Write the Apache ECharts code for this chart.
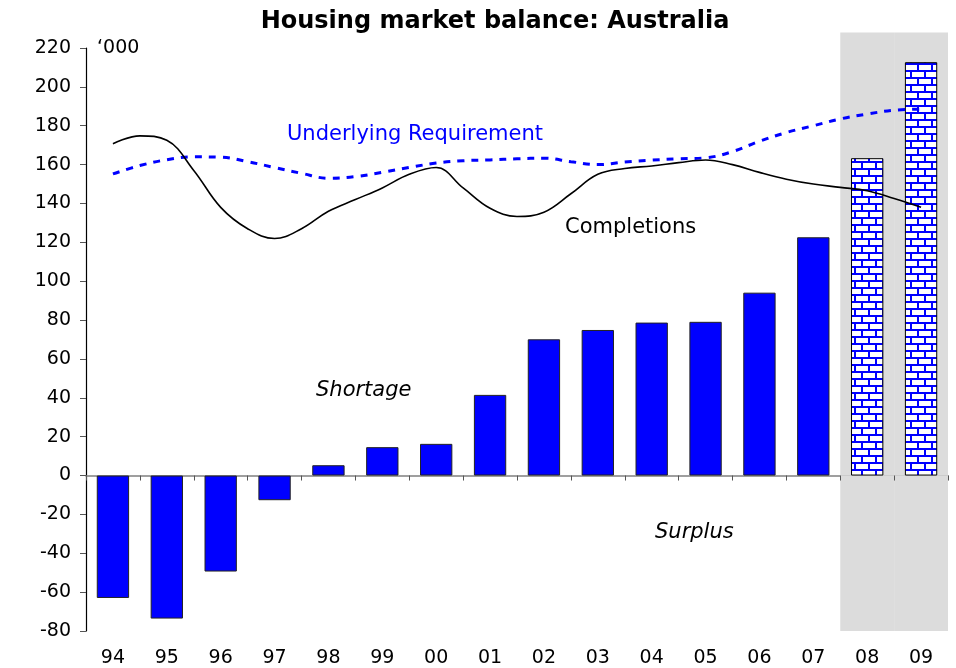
<!DOCTYPE html>
<html>
<head>
<meta charset="utf-8">
<script src="https://cdn.jsdelivr.net/npm/echarts@6/dist/echarts.min.js"></script>
<style>
  html, body { margin: 0; padding: 0; background: #fff; }
  #chart { width: 956px; height: 668px; }
</style>
</head>
<body>
<div id="chart"></div>
<script>
// Years shown on the category axis
const years = ['94', '95', '96', '97', '98', '99', '00', '01', '02', '03', '04', '05', '06', '07', '08', '09'];
// Housing balance ('000): shortage (+) / surplus (-)
const balance = [-63, -73.6, -49.4, -12.7, 5.3, 14.6, 16.3, 41.5, 70.1, 74.9, 78.7, 79.1, 94.1, 122.6, 163.3, 212.7];
// Forecast years (patterned bars, shaded region)
const forecastYears = ['08', '09'];
const shadeTop = 228;
const shadeBottom = -80;

// Half-yearly time points for the two lines
const lineTimes = [1994, 1994.5, 1995, 1995.5, 1996, 1996.5, 1997, 1997.5, 1998, 1998.5,
  1999, 1999.5, 2000, 2000.5, 2001, 2001.5, 2002, 2002.5, 2003, 2003.5,
  2004, 2004.5, 2005, 2005.5, 2006, 2006.5, 2007, 2007.5, 2008, 2008.5, 2009];
const completions = [170.7, 174.8, 172.5, 157, 138, 127, 122, 127, 136, 142,
  148, 155, 158.5, 148, 137.5, 133.3, 135.5, 145, 155, 158,
  159.3, 161, 162.4, 160, 156, 152.5, 150, 148.3, 146.5, 142.5, 138];
const requirement = [155.2, 159.5, 162.5, 164, 163.8, 161.5, 158.5, 155.5, 153, 153.8,
  156, 158.5, 160.8, 162, 162.4, 163, 163.3, 161.5, 160, 161.3,
  162.3, 163, 163.5, 166.7, 172, 176.5, 180, 183.5, 186, 188, 188.5];

const yTicks = { min: -80, max: 220, interval: 20 };

// brick pattern for forecast bars
function makeBrick() {
  const c = document.createElement('canvas');
  c.width = 14; c.height = 14;
  const g = c.getContext('2d');
  g.fillStyle = '#ffffff';
  g.fillRect(0, 0, 14, 14);
  g.fillStyle = '#0000ff';
  g.fillRect(0, 0, 14, 2);
  g.fillRect(0, 7, 14, 2);
  g.fillRect(0, 0, 2, 7);
  g.fillRect(7, 7, 2, 7);
  return c;
}
const brick = { image: makeBrick(), repeat: 'repeat' };

const font = 'DejaVu Sans, Verdana, sans-serif';
const chart = echarts.init(document.getElementById('chart'));

const barData = balance.map((v, i) => {
  if (forecastYears.includes(years[i])) {
    return { value: v, itemStyle: { color: brick, borderColor: '#000', borderWidth: 1 } };
  }
  return v;
});

const shadeUp = years.map(y => forecastYears.includes(y) ? shadeTop : null);
const shadeDown = years.map(y => forecastYears.includes(y) ? shadeBottom : null);

const option = {
  animation: false,
  title: {
    text: 'Housing market balance: Australia',
    left: 490,
    textAlign: 'center',
    top: 5,
    textStyle: { fontFamily: font, fontSize: 24, fontWeight: 'bold', color: '#000' }
  },
  grid: { left: 86, right: 8, top: 48, bottom: 37 },
  xAxis: [
    {
      type: 'category',
      data: years,
      axisLine: { onZero: true, lineStyle: { color: '#808080', width: 1.5 } },
      axisTick: { show: true, alignWithLabel: false, length: 5, lineStyle: { color: '#555' } },
      axisLabel: { show: false },
      splitLine: { show: false }
    },
    {
      type: 'category',
      data: years,
      position: 'bottom',
      axisLine: { show: false, onZero: false },
      axisTick: { show: false },
      axisLabel: { show: true, margin: 18, fontFamily: font, fontSize: 19, color: '#000' },
      splitLine: { show: false }
    },
    {
      type: 'value',
      min: 1993.5,
      max: 2009.5,
      show: false
    }
  ],
  yAxis: [
    {
      type: 'value',
      min: yTicks.min,
      max: yTicks.max,
      interval: yTicks.interval,
      axisLine: { show: true, lineStyle: { color: '#000', width: 1.2 } },
      axisTick: { show: true, length: 6, lineStyle: { color: '#555' } },
      axisLabel: { margin: 15, fontFamily: font, fontSize: 19, color: '#000' },
      splitLine: { show: false }
    },
    {
      type: 'value',
      min: yTicks.min,
      max: yTicks.max,
      show: false
    }
  ],
  series: [
    {
      name: 'shade-up',
      type: 'bar',
      xAxisIndex: 1,
      yAxisIndex: 1,
      data: shadeUp,
      barWidth: '100%',
      barGap: '-100%',
      clip: false,
      silent: true,
      itemStyle: { color: '#dcdcdc' },
      z: 0
    },
    {
      name: 'shade-down',
      type: 'bar',
      xAxisIndex: 1,
      yAxisIndex: 1,
      data: shadeDown,
      barWidth: '100%',
      barGap: '-100%',
      clip: false,
      silent: true,
      itemStyle: { color: '#dcdcdc' },
      z: 0
    },
    {
      name: 'Balance',
      type: 'bar',
      xAxisIndex: 0,
      yAxisIndex: 0,
      data: barData,
      barWidth: '60%',
      itemStyle: { color: '#0000ff', borderColor: '#222', borderWidth: 1 },
      z: 2
    },
    {
      name: 'Underlying Requirement',
      type: 'line',
      xAxisIndex: 2,
      yAxisIndex: 0,
      data: lineTimes.map((t, i) => [t, requirement[i]]),
      smooth: 0.4,
      symbol: 'none',
      lineStyle: { color: '#0000ff', width: 3, type: [7, 7] },
      z: 3
    },
    {
      name: 'Completions',
      type: 'line',
      xAxisIndex: 2,
      yAxisIndex: 0,
      data: lineTimes.map((t, i) => [t, completions[i]]),
      smooth: 0.4,
      symbol: 'none',
      lineStyle: { color: '#000', width: 1.6 },
      z: 4
    }
  ],
  graphic: [
    { type: 'text', left: 97, top: 39, style: { text: '\u2018000', font: '19px ' + font, fill: '#000' } },
    { type: 'text', left: 287, top: 124, style: { text: 'Underlying Requirement', font: '21px ' + font, fill: '#0000ff' } },
    { type: 'text', left: 565, top: 217, style: { text: 'Completions', font: '21px ' + font, fill: '#000' } },
    { type: 'text', left: 316, top: 380, style: { text: 'Shortage', font: 'italic 21px ' + font, fill: '#000' } },
    { type: 'text', left: 655, top: 522, style: { text: 'Surplus', font: 'italic 21px ' + font, fill: '#000' } }
  ]
};

chart.setOption(option);
</script>
</body>
</html>
